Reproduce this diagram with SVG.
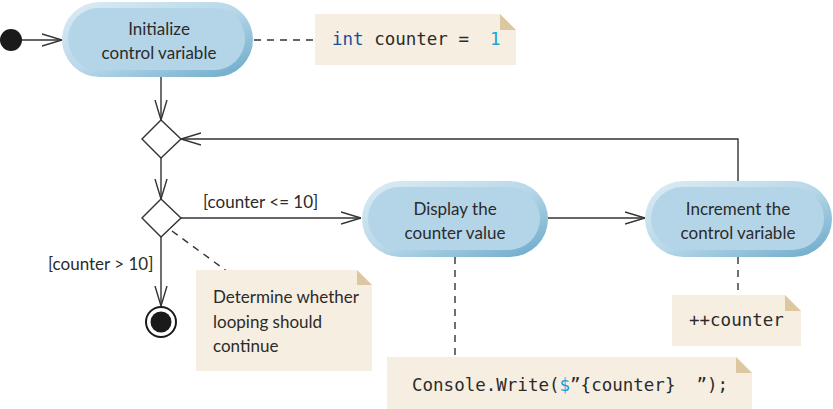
<svg xmlns="http://www.w3.org/2000/svg" width="833" height="409" viewBox="0 0 833 409">
<style>
.sans{font-family:Lato,"Open Sans","Liberation Sans",sans-serif;font-size:17px;fill:#2b2b2b}
.mono{font-family:"DejaVu Sans Mono","Liberation Mono",monospace;font-size:17.5px;fill:#2b2b2b;white-space:pre}
.line{stroke:#333;stroke-width:1.4;fill:none}
.dash{stroke:#333;stroke-width:1.4;fill:none;stroke-dasharray:7 6}
.note{fill:#f6eee0}
.fold{fill:#dcc8a0}
.outer{fill:url(#band)}
.inner{fill:#b4d5e7}
</style>
<defs>
<linearGradient id="band" x1="0" y1="0" x2="1" y2="1">
<stop offset="0" stop-color="#dcecf5"/>
<stop offset="0.5" stop-color="#b8d8e9"/>
<stop offset="1" stop-color="#68a8c9"/>
</linearGradient>
<marker id="arr" viewBox="0 0 20 14" refX="20" refY="7" markerWidth="20" markerHeight="14" markerUnits="userSpaceOnUse" orient="auto">
<path d="M0,1 L20,7 L0,13" fill="none" stroke="#333" stroke-width="1.4"/>
</marker>
</defs>
<g id="connectors">
<line class="line" x1="22" y1="40" x2="62" y2="40" marker-end="url(#arr)"/>
<line class="dash" x1="254" y1="40" x2="315" y2="40"/>
<line class="line" x1="161" y1="77" x2="161" y2="120" marker-end="url(#arr)"/>
<line class="line" x1="161" y1="158" x2="161" y2="199" marker-end="url(#arr)"/>
<polyline class="line" points="738,181 738,139 181,139" marker-end="url(#arr)"/>
<line class="line" x1="181" y1="218" x2="361" y2="218" marker-end="url(#arr)"/>
<line class="line" x1="548" y1="218" x2="645" y2="218" marker-end="url(#arr)"/>
<line class="line" x1="161" y1="237" x2="161" y2="306" marker-end="url(#arr)"/>
<line class="dash" x1="172" y1="231" x2="228" y2="272"/>
<line class="dash" x1="455" y1="257" x2="455" y2="357"/>
<line class="dash" x1="738" y1="257" x2="738" y2="295"/>
<text class="sans" x="203" y="208">[counter &lt;= 10]</text>
<text class="sans" x="48" y="270">[counter &gt; 10]</text>
</g>
<g id="start">
<circle cx="11" cy="40" r="11" fill="#1a1a1a"/>
</g>
<g id="init">
<rect class="outer" x="62" y="2" width="191" height="75" rx="37.5"/>
<rect class="inner" x="68" y="8" width="177" height="62" rx="31"/>
<text class="sans" x="159" y="35" text-anchor="middle">Initialize</text>
<text class="sans" x="159" y="59" text-anchor="middle">control variable</text>
</g>
<g id="note-init">
<path class="note" d="M315,14 H500 L516,30 V65 H315 Z"/>
<path class="fold" d="M500,14 L516,30 H500 Z"/>
<text class="mono" x="332" y="45" xml:space="preserve"><tspan fill="#1a4f9c">int</tspan> counter =  <tspan fill="#1ba0e0">1</tspan></text>
</g>
<g id="merge">
<polygon points="161,120 181,139 161,158 142,139" fill="#fff" stroke="#333" stroke-width="1.4"/>
</g>
<g id="decision">
<polygon points="161,199 181,218 161,237 142,218" fill="#fff" stroke="#333" stroke-width="1.4"/>
</g>
<g id="display">
<rect class="outer" x="362" y="181" width="186" height="76" rx="38"/>
<rect class="inner" x="368" y="187" width="172" height="63" rx="31.5"/>
<text class="sans" x="455" y="215" text-anchor="middle">Display the</text>
<text class="sans" x="455" y="239" text-anchor="middle">counter value</text>
</g>
<g id="increment">
<rect class="outer" x="645" y="181" width="187" height="76" rx="38"/>
<rect class="inner" x="651" y="187" width="173" height="63" rx="31.5"/>
<text class="sans" x="738" y="215" text-anchor="middle">Increment the</text>
<text class="sans" x="738" y="239" text-anchor="middle">control variable</text>
</g>
<g id="final">
<circle cx="161" cy="322" r="15" fill="#fff" stroke="#1a1a1a" stroke-width="2"/>
<circle cx="161" cy="322" r="10.5" fill="#1a1a1a"/>
</g>
<g id="note-decision">
<path class="note" d="M196,270 H357 L372,285 V371 H196 Z"/>
<path class="fold" d="M357,270 L372,285 H357 Z"/>
<text class="sans" x="213" y="303">Determine whether</text>
<text class="sans" x="213" y="328">looping should</text>
<text class="sans" x="213" y="352">continue</text>
</g>
<g id="note-console">
<path class="note" d="M387,357 H736 L752,373 V409 H387 Z"/>
<path class="fold" d="M736,357 L752,373 H736 Z"/>
<text class="mono" x="412" y="391" xml:space="preserve">Console.Write(<tspan fill="#1ba0e0">$</tspan>”{counter}  ”);</text>
</g>
<g id="note-increment">
<path class="note" d="M672,295 H785 L801,311 V346 H672 Z"/>
<path class="fold" d="M785,295 L801,311 H785 Z"/>
<text class="mono" x="689" y="326">++counter</text>
</g>
</svg>
